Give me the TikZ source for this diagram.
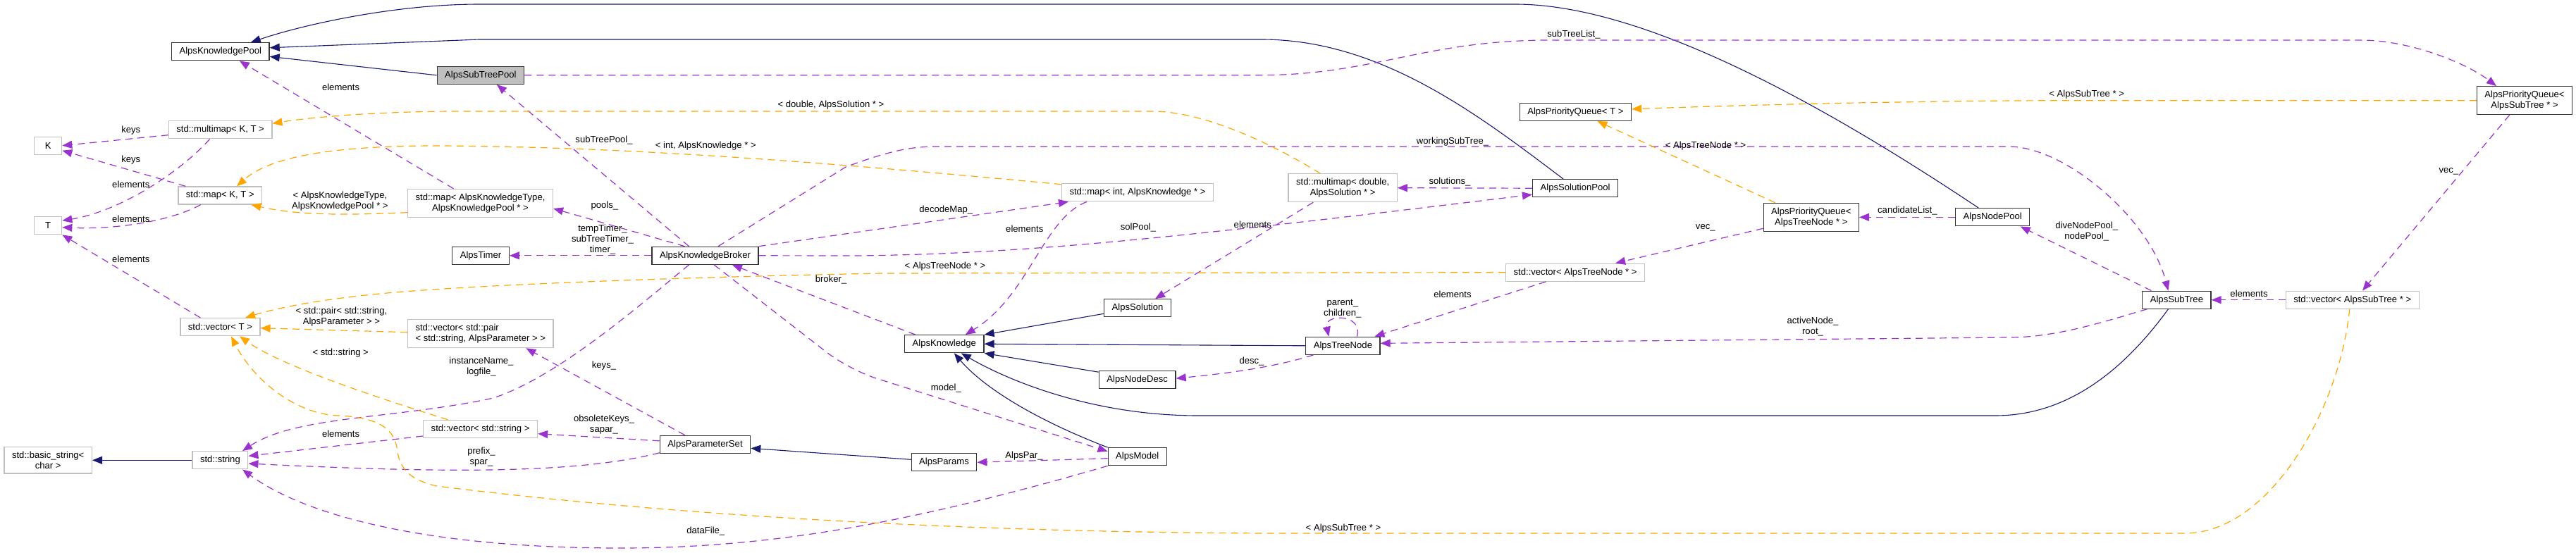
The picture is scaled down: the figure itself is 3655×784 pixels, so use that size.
\documentclass[tikz,border=0pt]{standalone}
\usepackage{fontspec}
\setmainfont{Liberation Sans}
\usetikzlibrary{arrows.meta}
\definecolor{edgeblue}{HTML}{191970}
\definecolor{edgepurple}{HTML}{9A32CD}
\definecolor{edgeorange}{HTML}{FFA500}
\definecolor{boxgrey}{HTML}{BFBFBF}

\begin{document}
\begin{tikzpicture}[x=1pt, y=-1pt,
  every node/.style={font=\fontsize{13.1}{15}\selectfont},
  cls/.style={draw=black!80, line width=1.3pt, fill=white, minimum height=25pt,
    inner xsep=11pt, inner ysep=6.3pt, align=center},
  ext/.style={cls, draw=boxgrey},
  lbl/.style={inner sep=0pt, align=center},
  tip/.style={-{Triangle[length=14pt,width=11pt]}},
  inhline/.style={tip, edgeblue, line width=1.1pt},
  useline/.style={tip, edgepurple, line width=1.2pt, dash pattern=on 10pt off 7pt},
  tplline/.style={tip, edgeorange, line width=1.2pt, dash pattern=on 10pt off 7pt}]
  \fill[white] (0,0) rectangle (3655,784);

  % Classes (left)
  \node[cls] (kp) at (312.8,73.3) {AlpsKnowledgePool};
  \node[ext] (mmkt) at (312.6,184.3) {std::multimap< K, T >};
  \node[ext, minimum width=39pt] (K) at (68.2,206.7) {K};
  \node[ext] (mapkt) at (312.3,277.5) {std::map< K, T >};
  \node[ext, minimum width=39pt] (T) at (68.2,320.2) {T};
  \node[ext] (vect) at (312.4,464.2) {std::vector< T >};
  \node[ext] (bstr) at (68.2,653.3) {std::basic\_string<\\char >};
  \node[ext] (str) at (312.4,653.3) {std::string};

  % Classes (middle)
  \node[cls, fill=boxgrey] (stp) at (681.9,106.8) {AlpsSubTreePool};
  \node[ext] (mapakt) at (681.5,288.3) {std::map< AlpsKnowledgeType,\\AlpsKnowledgePool * >};
  \node[cls] (timer) at (682,362.8) {AlpsTimer};
  \node[ext, align=left] (vecpair) at (681.8,473.7) {std::vector< std::pair\\< std::string, AlpsParameter > >};
  \node[ext] (vecstr) at (681.6,609) {std::vector< std::string >};
  \node[cls] (broker) at (1000.5,362.8) {AlpsKnowledgeBroker};
  \node[cls] (pset) at (1000.5,630.8) {AlpsParameterSet};
  \node[cls] (know) at (1339.8,488.2) {AlpsKnowledge};
  \node[cls] (params) at (1339.5,656.3) {AlpsParams};
  \node[ext] (mapint) at (1614,273.3) {std::map< int, AlpsKnowledge * >};
  \node[cls] (sol) at (1614,437.3) {AlpsSolution};
  \node[cls] (ndesc) at (1613.7,539.2) {AlpsNodeDesc};
  \node[cls] (model) at (1613.8,648.2) {AlpsModel};
  \node[ext] (mmdbl) at (1905.2,266.7) {std::multimap< double,\\AlpsSolution * >};
  \node[cls] (tnode) at (1905.4,490.8) {AlpsTreeNode};

  % Classes (right)
  \node[cls] (pqt) at (2235.4,158.8) {AlpsPriorityQueue< T >};
  \node[cls] (solpool) at (2235.1,267.2) {AlpsSolutionPool};
  \node[ext] (vecatn) at (2235.1,386.7) {std::vector< AlpsTreeNode * >};
  \node[cls] (pqatn) at (2569.8,308.3) {AlpsPriorityQueue<\\AlpsTreeNode * >};
  \node[cls] (nodepool) at (2827.2,308.3) {AlpsNodePool};
  \node[cls] (subtree) at (3088.4,425.7) {AlpsSubTree};
  \node[ext] (vecast) at (3337.7,425.7) {std::vector< AlpsSubTree * >};
  \node[cls] (pqast) at (3582,142.7) {AlpsPriorityQueue<\\AlpsSubTree * >};

  % Inheritance
  \draw[inhline] (stp.west) -- ([yshift=-7pt]kp.east);
  \draw[inhline] ([xshift=-17pt]solpool.north) .. controls (2100,165) and (1960,56) .. (1790,56) -- (680,56) -- ([yshift=5.5pt]kp.east);
  \draw[inhline] ([xshift=-20pt]nodepool.north) .. controls (2560,130) and (2320,6) .. (2150,6) -- (680,6) .. controls (560,6) and (430,35) .. ([xshift=43pt]kp.north);
  \draw[inhline] ([xshift=-12pt]subtree.south) .. controls (3010,530) and (2930,590) .. (2831,590) -- (1700,590) .. controls (1550,590) and (1430,540) .. ([xshift=24pt]know.south);
  \draw[inhline] (tnode.west) -- (know.east);
  \draw[inhline] ([yshift=-8pt]sol.west) -- (know.north east);
  \draw[inhline] ([yshift=11pt]ndesc.west) -- (know.south east);
  \draw[inhline] (model.north west) .. controls (1480,600) and (1400,555) .. ([xshift=14pt]know.south);
  \draw[inhline] ([yshift=4pt]params.west) -- ([yshift=-5.5pt]pset.east);
  \draw[inhline] (str.west) -- (bstr.east);

  % Members
  \draw[useline] (stp.east) -- (1790,106.7) .. controls (1950,106) and (2020,57) .. (2200,57) -- (3350,57) .. controls (3420,57) and (3500,90) .. ([xshift=-40pt]pqast.north);
  \draw[useline] ([xshift=-38pt]mapakt.north) -- ([xshift=27pt]kp.south);
  \draw[useline] ([yshift=-7.4pt]mmkt.west) -- (K.east);
  \draw[useline] ([xshift=-15pt]mmkt.south) .. controls (255,245) and (170,300) .. ([yshift=7pt]T.east);
  \draw[useline] ([xshift=-49pt]mapkt.north) -- ([yshift=-7pt]K.east);
  \draw[useline] ([xshift=-27.6pt]mapkt.south) .. controls (240,315) and (160,326) .. ([yshift=-2.5pt]T.east);
  \draw[useline] ([xshift=-28pt]vect.north) -- (T.south east);
  \draw[useline] ([xshift=-23pt]broker.north) -- ([xshift=23pt]stp.south);
  \draw[useline] ([xshift=-29pt]broker.north) -- ([yshift=-7.7pt]mapakt.east);
  \draw[useline] (broker.west) -- (timer.east);
  \draw[useline] (broker.north east) -- ([xshift=-98pt]mapint.south);
  \draw[useline] ([xshift=18.5pt]broker.north) -- (1200,237) .. controls (1260,215) and (1290,208) .. (1330,208) -- (2850,208) .. controls (2930,208) and (3050,310) .. ([xshift=-12pt]subtree.north);
  \draw[useline] (broker.east) -- (1220,363) .. controls (1450,360) and (1650,340) .. ([yshift=-9pt]solpool.west);
  \draw[useline] ([xshift=-41pt]know.north) -- ([xshift=38.4pt]broker.south);
  \draw[useline, rounded corners=40pt] ([xshift=12.7pt]broker.south) -- (1205,525) -- ([yshift=7.5pt]model.west);
  \draw[useline] ([xshift=-72pt]mapint.south) .. controls (1480,310) and (1460,420) .. ([xshift=30pt]know.north);
  \draw[useline] ([xshift=-42pt]mmdbl.south) -- ([xshift=25pt]sol.north);
  \draw[useline] (solpool.west) -- (mmdbl.east);
  \draw[useline] ([xshift=-41.7pt]vecatn.south) -- ([xshift=45pt]tnode.north);
  \draw[useline] ([xshift=20pt]tnode.north) .. controls (1935,445) and (1878,445) .. ([xshift=-20pt]tnode.north);
  \draw[useline] ([xshift=-42pt]tnode.south) .. controls (1800,524) and (1720,532) .. ([yshift=2pt]ndesc.east);
  \draw[useline] ([xshift=-42pt]subtree.south) .. controls (2990,455) and (2920,479) .. (2850,479) -- ([yshift=3.5pt]tnode.east);
  \draw[useline] ([xshift=-36pt]subtree.north) -- ([xshift=39.4pt]nodepool.south);
  \draw[useline] (nodepool.west) -- (pqatn.east);
  \draw[useline] ([yshift=-16pt]pqatn.west) -- ([xshift=57pt]vecatn.north);
  \draw[useline] ([xshift=-21.3pt]pqast.south) -- ([xshift=14.3pt]vecast.north);
  \draw[useline] (vecast.west) -- (subtree.east);
  \draw[useline] ([xshift=-28.8pt]pset.north) -- ([xshift=64.5pt]vecpair.south);
  \draw[useline] ([yshift=5pt]pset.west) -- ([yshift=-6.7pt]vecstr.east);
  \draw[useline] ([yshift=-12pt]pset.west) .. controls (820,672) and (640,672) .. ([yshift=-4.7pt]str.east);
  \draw[useline] ([yshift=-10pt]vecstr.west) -- ([yshift=6pt]str.east);
  \draw[useline] ([xshift=-23pt]broker.south) .. controls (900,440) and (790,535) .. (700,565) .. controls (560,595) and (420,590) .. ([xshift=31.6pt]str.north);
  \draw[useline] (model.south west) .. controls (1300,740) and (1100,778) .. (880,778) .. controls (600,778) and (430,730) .. ([xshift=31.6pt]str.south);
  \draw[useline] ([yshift=-2.5pt]model.west) -- (params.east);

  % Template instances
  \draw[tplline] ([xshift=-32pt]mmdbl.north) .. controls (1790,195) and (1700,158) .. (1635,158) -- (650,158) .. controls (550,158) and (450,165) .. ([yshift=9pt]mmkt.east);
  \draw[tplline] ([yshift=11.6pt]mapint.west) .. controls (1200,233) and (900,208) .. (620,207) .. controls (460,207) and (380,225) .. ([xshift=23.7pt]mapkt.north);
  \draw[tplline] ([yshift=-13.4pt]mapakt.west) .. controls (480,306) and (420,305) .. ([xshift=-16pt]mapkt.south east);
  \draw[tplline] (vecatn.west) -- (1250,388) .. controls (900,395) and (700,405) .. (600,412) .. controls (480,420) and (400,435) .. ([xshift=35.6pt]vect.north);
  \draw[tplline] ([yshift=2pt]vecpair.west) -- ([yshift=-1.5pt]vect.east);
  \draw[tplline] ([xshift=-46pt]vecstr.north) .. controls (540,566) and (400,520) .. ([xshift=27.6pt]vect.south);
  \draw[tplline] ([xshift=-4pt]vecast.south) .. controls (3320,580) and (3220,757) .. (3100,757) -- (1800,757) .. controls (1300,755) and (900,725) .. (620,690) .. controls (575,680) and (566,660) .. (563,635) .. controls (558,605) and (530,592) .. (480,590) .. controls (420,588) and (360,540) .. ([xshift=15.6pt]vect.south);
  \draw[tplline] (pqast.west) -- (2950,142.7) .. controls (2700,142.7) and (2450,150) .. ([yshift=4pt]pqt.east);
  \draw[tplline] ([xshift=-51pt]pqatn.north) -- ([xshift=31pt]pqt.south);

  % Edge labels
  \node[lbl] (l1) at (483.6,123.7) {elements};
  \node[lbl] (l2) at (185.8,185.3) {keys};
  \node[lbl] (l3) at (185.8,226.7) {keys};
  \node[lbl] (l4) at (185.8,261.7) {elements};
  \node[lbl] (l5) at (185.8,310.7) {elements};
  \node[lbl] (l6) at (185.8,367.7) {elements};
  \node[lbl] (l7) at (482.4,286) {< AlpsKnowledgeType,\\AlpsKnowledgePool * >};
  \node[lbl] (l8) at (857,199.3) {subTreePool\_};
  \node[lbl] (l9) at (1001.3,207.3) {< int, AlpsKnowledge * >};
  \node[lbl] (l10) at (1179,149.3) {< double, AlpsSolution * >};
  \node[lbl] (l11) at (857.8,292) {pools\_};
  \node[lbl] (l12) at (855,340) {tempTimer\_\\subTreeTimer\_\\timer\_};
  \node[lbl] (l13) at (1179,397.3) {broker\_};
  \node[lbl] (l14) at (1342.3,297.7) {decodeMap\_};
  \node[lbl] (l15) at (1453.8,325) {elements};
  \node[lbl] (l16) at (1615,323.3) {solPool\_};
  \node[lbl] (l17) at (1777.3,319.3) {elements};
  \node[lbl] (l18) at (1341,378.3) {< AlpsTreeNode * >};
  \node[lbl] (l19) at (2233,49.3) {subTreeList\_};
  \node[lbl] (l20) at (2061,201.3) {workingSubTree\_};
  \node[lbl] (l21) at (2057,258.3) {solutions\_};
  \node[lbl] (l22) at (2420,207.3) {< AlpsTreeNode * >};
  \node[lbl] (l23) at (2419.8,323.3) {vec\_};
  \node[lbl] (l24) at (2960.7,134.3) {< AlpsSubTree * >};
  \node[lbl] (l25) at (2706.4,299.3) {candidateList\_};
  \node[lbl] (l26) at (2960.7,328.3) {diveNodePool\_\\nodePool\_};
  \node[lbl] (l27) at (3474.4,243.3) {vec\_};
  \node[lbl] (l28) at (484.4,450) {< std::pair< std::string,\\AlpsParameter > >};
  \node[lbl] (l29) at (483.2,501.3) {< std::string >};
  \node[lbl] (l30) at (483.6,615.7) {elements};
  \node[lbl] (l31) at (683,520.7) {instanceName\_\\logfile\_};
  \node[lbl] (l32) at (857,518.7) {keys\_};
  \node[lbl] (l33) at (857,602.3) {obsoleteKeys\_\\sapar\_};
  \node[lbl] (l34) at (683,649) {prefix\_\\spar\_};
  \node[lbl] (l35) at (1001.3,754) {dataFile\_};
  \node[lbl] (l36) at (1776,513.3) {desc\_};
  \node[lbl] (l37) at (1342.3,550.7) {model\_};
  \node[lbl] (l38) at (1453,646.7) {AlpsPar\_};
  \node[lbl] (l39) at (1904.8,438) {parent\_\\children\_};
  \node[lbl] (l40) at (2061,418.3) {elements};
  \node[lbl] (l41) at (1906,749.7) {< AlpsSubTree * >};
  \node[lbl] (l42) at (2572,463.3) {activeNode\_\\root\_};
  \node[lbl] (l43) at (3191,417.3) {elements};
\end{tikzpicture}
\end{document}
